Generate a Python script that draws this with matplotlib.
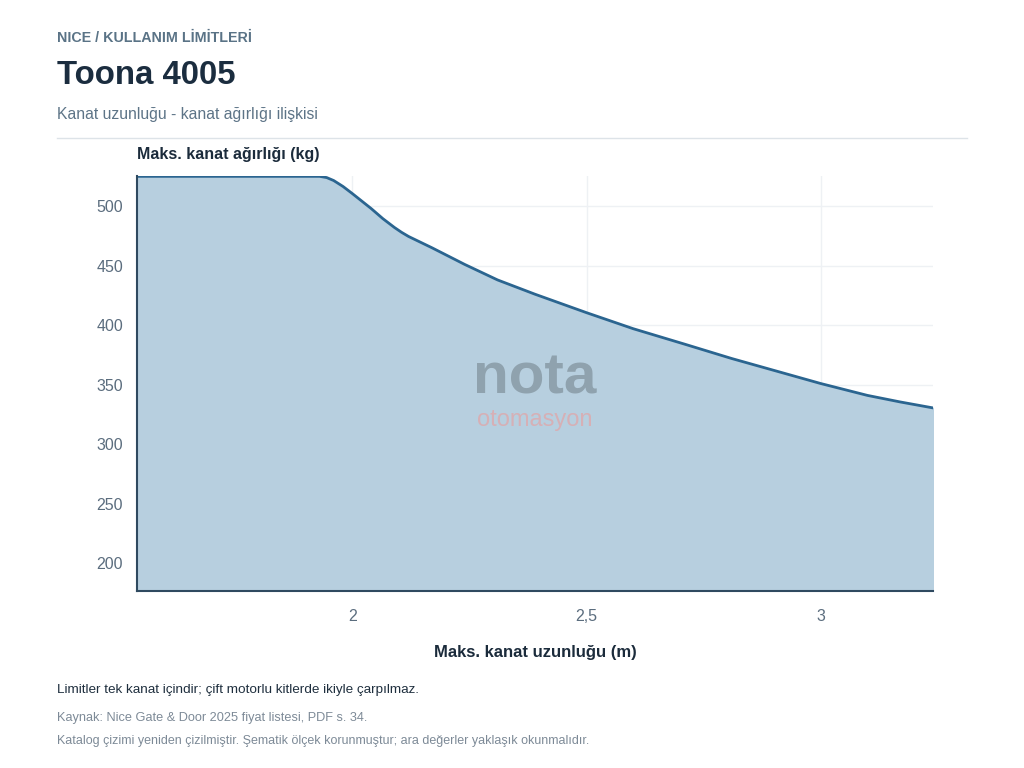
import matplotlib.pyplot as plt
from matplotlib.ticker import FuncFormatter

plt.rcParams['font.family'] = ['Liberation Sans', 'DejaVu Sans']

# values
length_m = [1.54, 1.93, 1.945, 1.96, 1.98, 2.0, 2.04, 2.065, 2.09, 2.105, 2.12,
            2.17, 2.24, 2.31, 2.39, 2.5, 2.6, 2.71, 2.81, 3.0, 3.1, 3.17, 3.24]
weight_kg = [525, 525, 524, 521.5, 516.5, 510.5, 498, 489.5, 482, 478, 474.5,
             465, 451, 438, 426, 410.5, 397, 384, 372, 351, 341, 335.5, 330.5]
x_ticks = [2, 2.5, 3]
y_ticks = [200, 250, 300, 350, 400, 450, 500]

fig = plt.figure(figsize=(10.24, 7.68), dpi=100)
ax = fig.add_axes([137 / 1024, 1 - 591 / 768, 796 / 1024, 415 / 768])

ax.fill_between(length_m, weight_kg, 176.7, color='#b7cfdf', zorder=2)
ax.plot(length_m, weight_kg, color='#2b6590', lw=2, zorder=3,
        solid_joinstyle='round')

ax.set_xlim(min(length_m), max(length_m))
ax.set_ylim(176.7, 525.3)
ax.set_xticks(x_ticks)
ax.set_yticks(y_ticks)
ax.xaxis.set_major_formatter(FuncFormatter(lambda v, p: f'{v:g}'.replace('.', ',')))
ax.tick_params(length=0, labelsize=11.5, labelcolor='#5b6d7e')
ax.tick_params(axis='y', pad=10)
ax.tick_params(axis='x', pad=13)
ax.grid(color='#eef1f4', lw=1, zorder=0)
ax.set_axisbelow(True)

for s in ['top', 'right']:
    ax.spines[s].set_visible(False)
for s in ['left', 'bottom']:
    ax.spines[s].set_color('#2f4a60')
    ax.spines[s].set_linewidth(1.5)
    ax.spines[s].set_zorder(4)

ax.set_xlabel('Maks. kanat uzunluğu (m)', fontsize=12, fontweight='bold',
              color='#1b2b3b', labelpad=15)

# watermark
ax.text(0.5, (591 - 394) / 415, 'nota', transform=ax.transAxes, ha='center',
        va='baseline', fontsize=42, fontweight='bold', color='#8fa2ae', zorder=2.5)
ax.text(0.5, (591 - 426) / 415, 'otomasyon', transform=ax.transAxes, ha='center',
        va='baseline', fontsize=17, color='#d6b0b6', zorder=2.5)

fig.text(137 / 1024, 1 - 155 / 768, 'Maks. kanat ağırlığı (kg)', fontsize=11.5,
         fontweight='bold', color='#1b2b3b', va='center')

fig.text(57 / 1024, 1 - 38 / 768, 'NICE / KULLANIM LİMİTLERİ', fontsize=10.3,
         fontweight='bold', color='#5a7386', va='center')
fig.text(57 / 1024, 1 - 76 / 768, 'Toona 4005', fontsize=23.8, fontweight='bold',
         color='#1b2d3f', va='center')
fig.text(57 / 1024, 1 - 114 / 768, 'Kanat uzunluğu - kanat ağırlığı ilişkisi',
         fontsize=11.3, color='#5d7487', va='center')
fig.add_artist(plt.Line2D([57 / 1024, 967 / 1024], [1 - 138 / 768] * 2,
                          color='#dde3e8', lw=1))

fig.text(57 / 1024, 1 - 690 / 768,
         'Limitler tek kanat içindir; çift motorlu kitlerde ikiyle çarpılmaz.',
         fontsize=9.7, color='#1f2f3e', va='center')
fig.text(57 / 1024, 1 - 718 / 768, 'Kaynak: Nice Gate & Door 2025 fiyat listesi, PDF s. 34.',
         fontsize=9.2, color='#7d8a97', va='center')
fig.text(57 / 1024, 1 - 741 / 768,
         'Katalog çizimi yeniden çizilmiştir. Şematik ölçek korunmuştur; ara değerler yaklaşık okunmalıdır.',
         fontsize=9.0, color='#7d8a97', va='center')

fig.savefig('out.png', dpi=100, facecolor='white')
